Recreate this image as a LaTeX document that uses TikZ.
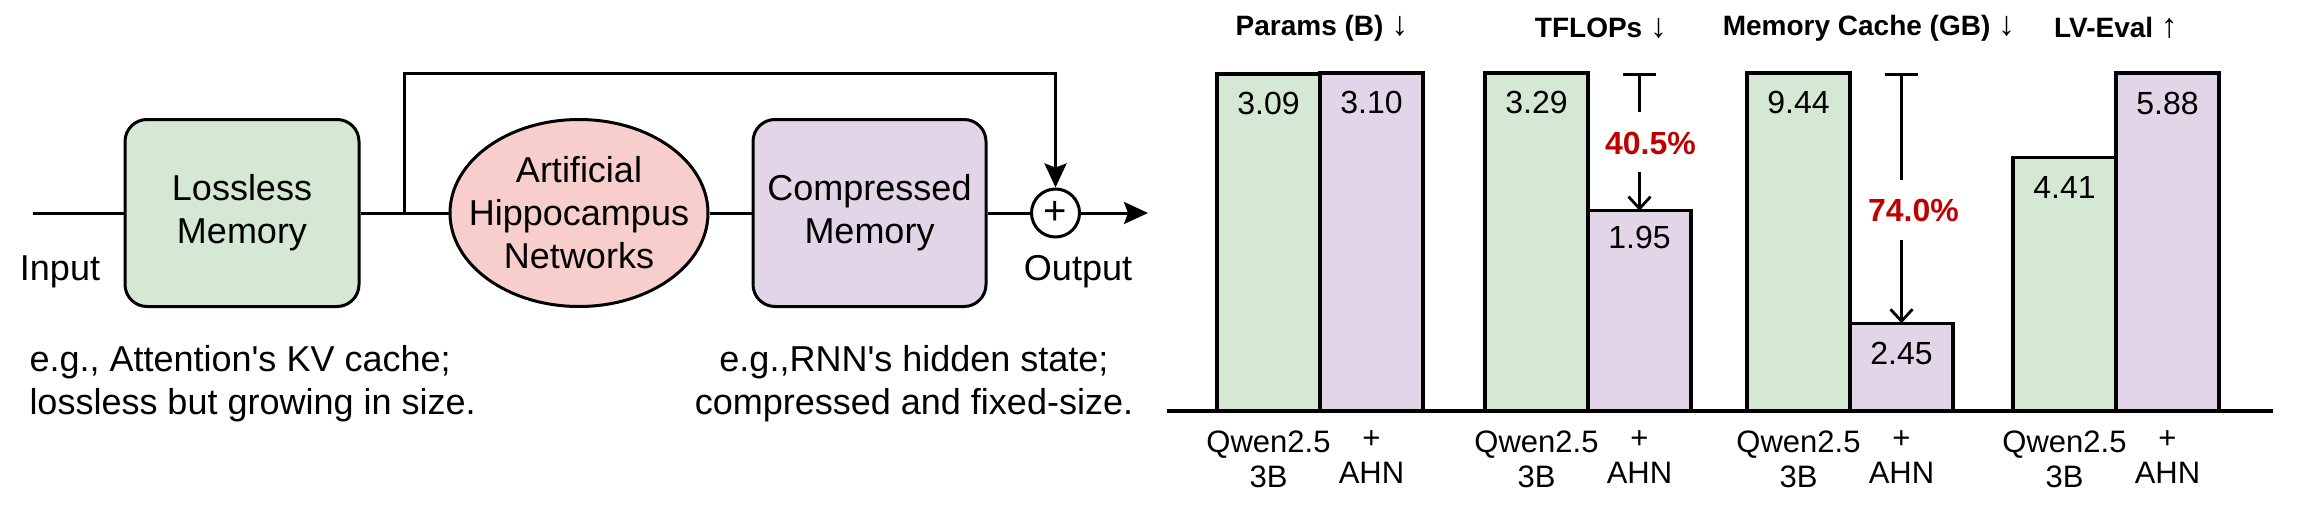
\documentclass[tikz,border=0pt]{standalone}
\usepackage{fontspec}
\setmainfont{Liberation Sans}
\usetikzlibrary{arrows.meta,calc,shapes.geometric}
\definecolor{gfill}{HTML}{D5E8D4}
\definecolor{pfill}{HTML}{E1D5E7}
\definecolor{rfill}{HTML}{F8CECC}
\definecolor{pctred}{HTML}{C00000}
\newcommand{\tarr}[1]{{\fontsize{34}{34}\selectfont #1}}
\begin{document}
\begin{tikzpicture}[x=1pt,y=-1pt,line width=3pt,
  txt/.style={font=\fontsize{36}{43}\selectfont, align=center, inner sep=0pt},
  memrect/.style={draw, rounded corners=22pt, minimum width=234pt, minimum height=187pt, inner sep=0pt, txt},
  arr/.style={-{Stealth[length=24pt,width=22pt,inset=4pt]}},
  gbar/.style={draw, fill=gfill, line width=3.5pt, minimum width=103pt, anchor=south west, inner sep=0pt, outer sep=0pt},
  pbar/.style={gbar, fill=pfill},
  val/.style={font=\fontsize{32}{36}\selectfont},
  lab/.style={font=\fontsize{31}{35}\selectfont, align=center},
  ttl/.style={font=\fontsize{28}{32}\selectfont},
  pct/.style={font=\fontsize{32}{36}\selectfont\bfseries, text=pctred},
  tline/.style={line width=2.8pt, {Bar[width=33pt]}-},
  aline/.style={line width=2.8pt, -{Straight Barb[length=12pt,width=22pt]}}
]
\useasboundingbox (0,0) rectangle (2310,514);

% ---------- left diagram ----------
\coordinate (inL) at (33,213);
\node[memrect, fill=gfill] (lm) at (242,213) {Lossless\\Memory};
\node[ellipse, draw, fill=rfill, minimum width=258pt, minimum height=187pt, inner sep=0pt] (ahn) at (579,213) {};
\node[txt] (ahntext) at (ahn.center) {Artificial\\Hippocampus\\Networks};
\node[memrect, fill=pfill, minimum width=233pt] (cm) at (869.5,213) {Compressed\\Memory};
\node[circle, draw, fill=white, minimum size=48pt, inner sep=0pt, font=\fontsize{40}{40}\selectfont] (plus) at (1055.5,213) {+};
\coordinate (outp) at (1148,213);
\coordinate (jn) at (404,213);
\coordinate (fbtop) at (404,73);

\draw (inL) -- (lm.west);
\draw (lm.east) -- (ahn.west);
\draw (ahn.east) -- (cm.west);
\draw (cm.east) -- (plus.west);
\draw[arr] (plus.east) -- (outp);
\draw[arr] (jn) -- (fbtop) -| (plus.north);

\node[txt] (inlab) at (60,272) {Input};
\node[txt] (outlab) at (1078,272) {Output};
\node[txt, align=left, anchor=west] (d1) at (28,383.5) {e.g., Attention\textquotesingle s KV cache;\\lossless but growing in size.};
\node[txt] (d2) at (914,383.5) {e.g.,RNN\textquotesingle s hidden state;\\compressed and fixed-size.};

% ---------- bar charts ----------
\node[gbar, minimum height=336.9pt] (g1) at (1217,411) {};
\node[pbar, minimum height=338pt]   (p1) at (1320,411) {};
\node[gbar, minimum height=338pt]   (g2) at (1485,411) {};
\node[pbar, minimum height=200.3pt] (p2) at (1588,411) {};
\node[gbar, minimum height=338pt]   (g3) at (1747,411) {};
\node[pbar, minimum height=87.7pt]  (p3) at (1850,411) {};
\node[gbar, minimum height=253.5pt] (g4) at (2013,411) {};
\node[pbar, minimum height=338pt]   (p4) at (2116,411) {};

\coordinate (bl) at (1167,411);
\coordinate (br) at (2273,411);
\draw[line width=3.5pt] (bl) -- (br);

\node[val] at ($(g1.north)+(0,29)$) {3.09};
\node[val] at ($(p1.north)+(0,29)$) {3.10};
\node[val] at ($(g2.north)+(0,29)$) {3.29};
\node[val] at ($(p2.north)+(0,27)$) {1.95};
\node[val] at ($(g3.north)+(0,29)$) {9.44};
\node[val] at ($(p3.north)+(0,30)$) {2.45};
\node[val] at ($(g4.north)+(0,30)$) {4.41};
\node[val] at ($(p4.north)+(0,30)$) {5.88};

\foreach \b in {g1,g2,g3,g4} {
  \node[lab] at ($(\b.south)+(0,48)$) {Qwen2.5\\3B};
}
\foreach \b in {p1,p2,p3,p4} {
  \node[lab] at ($(\b.south)+(0,46)$) {+\\AHN};
}

\node[ttl] (tt1) at (1322,28) {{\bfseries Params (B)} \tarr{↓}};
\node[ttl] (tt2) at (1601,28) {{\bfseries TFLOPs} \tarr{↓}};
\node[ttl] (tt3) at (1869,28) {{\bfseries Memory Cache (GB)} \tarr{↓}};
\node[ttl] (tt4) at (2116,28) {{\bfseries LV-Eval} \tarr{↑}};

% annotations
\coordinate (t2a) at (p2.north |- g2.north);
\coordinate (t2b) at ($(t2a)+(0,39)$);
\coordinate (t2c) at ($(t2a)+(0,99)$);
\node[pct] (r2) at ($(t2a)+(11,70)$) {40.5\%};
\draw[tline] (t2a) -- (t2b);
\draw[aline] (t2c) -- (p2.north);

\coordinate (t3a) at (p3.north |- g3.north);
\coordinate (t3b) at ($(t3a)+(0,107)$);
\coordinate (t3c) at ($(t3a)+(0,167)$);
\node[pct] (r3) at ($(t3a)+(12,137)$) {74.0\%};
\draw[tline] (t3a) -- (t3b);
\draw[aline] (t3c) -- (p3.north);
\end{tikzpicture}
\end{document}
